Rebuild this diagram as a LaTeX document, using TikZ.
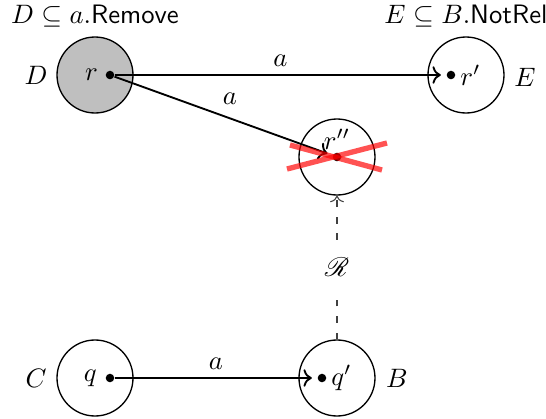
\documentclass[tikz,border=0pt]{standalone}
\usepackage{mathrsfs}
\usetikzlibrary{arrows.meta}
\begin{document}
\begin{tikzpicture}[x=0.375pt,y=-0.375pt,
  region/.style={draw,circle,minimum size=76*0.375pt,inner sep=0pt,line width=0.5pt},
  pt/.style={circle,fill=black,inner sep=0pt,minimum size=3.2pt},
  trans/.style={->,line width=0.7pt,shorten >=2pt},
  crossline/.style={line width=2pt,draw=red,draw opacity=0.68},
  rel/.style={->,thin,draw=black!75,dash pattern=on 2.5pt off 3.7pt}]
\useasboundingbox (0,0) rectangle (546,419);
% regions
\node[region,fill=gray!50] (Dc) at (95,75) {};
\node[region] (Ec) at (466,75) {};
\node[region] (Rc) at (337,157) {};
\node[region] (Cc) at (95,378) {};
\node[region] (Bc) at (337,378) {};
% region names
\node (Dl) at (36,75) {$D$};
\node (El) at (525,77) {$E$};
\node (Cl) at (36,378) {$C$};
\node (Bl) at (397,378) {$B$};
% top labels
\node (Dt) at (95,16) {$D\subseteq a.\textsf{Remove}$};
\node (Et) at (466,16) {$E\subseteq B.\textsf{NotRel}$};
% points
\node[pt,label={[inner sep=2.5pt]left:$r$}] (r) at (110,75) {};
\node[pt,label={[inner sep=1.5pt]right:$r'$}] (r1) at (451,75) {};
\node[pt,label={[inner sep=1pt]above:$r''$}] (r2) at (337,157) {};
\node[pt,label={[inner sep=3pt]left:$q$}] (q) at (110,378) {};
\node[pt,label={[inner sep=1.5pt]right:$q'$}] (q1) at (322,378) {};
% transitions
\draw[trans] (r) -- node[above,inner sep=3pt] (la1) {$a$} (r1);
\draw[trans] (r) -- node[pos=0.53,above,inner sep=5pt] (la2) {$a$} (r2);
\draw[trans] (q) -- node[above,inner sep=3pt] (la3) {$a$} (q1);
% relation
\draw[rel] (Bc.north) -- node[fill=white,inner xsep=3pt,inner ysep=7pt] (R) {$\mathscr{R}$} (Rc.south);
% cross
\coordinate (x1) at (290,145);
\coordinate (x2) at (382,170);
\coordinate (x3) at (287,169);
\coordinate (x4) at (387,143);
\draw[crossline] (x1) -- (x2);
\draw[crossline] (x3) -- (x4);
\end{tikzpicture}
\end{document}
